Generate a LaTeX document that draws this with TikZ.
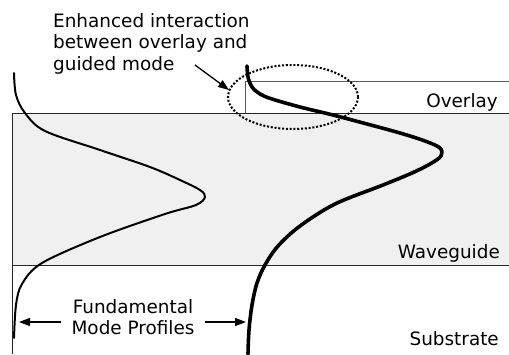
\documentclass[tikz,border=0pt]{standalone}
\usepackage{fontspec}
\setmainfont{DejaVu Sans}
\usetikzlibrary{arrows.meta}
\begin{document}
\begin{tikzpicture}[x=1pt,y=-1pt,
  lbl/.style={inner sep=0pt, font=\fontsize{18.4}{21.5}\selectfont},
  bound/.style={line width=1pt, black!85},
  thinprofile/.style={line width=2pt, line join=round, line cap=round},
  thickprofile/.style={line width=3.6pt, line join=round, line cap=round},
  arr/.style={line width=1.3pt, -{Triangle[length=11pt,width=8pt]}},
  halo/.style={line width=2pt, dash pattern=on 2pt off 1.8pt}]
\useasboundingbox (0,0) rectangle (509,354);
% waveguide layer
\fill[black!6] (12,113) rectangle (509,265);
% boundaries
\draw[bound] (509,113) -- (12,113) -- (12,354);
\draw[bound] (12,265) -- (509,265);
\draw[bound, black!65] (245,113) -- (245,81) -- (509,81);
% mode profiles
\draw[thinprofile] plot[smooth, tension=0.55] coordinates {
  (14,73) (16,95) (25,113) (45,131) (100,150) (150,167) (180,180)
  (200,190) (205,197) (196,205) (165,214) (100,237) (42,263)
  (22,284) (16,305) (14,338)};
\draw[thickprofile] plot[smooth, tension=0.55] coordinates {
  (247,66) (248,77) (252,87) (260,94) (272,99) (300,107) (333,115)
  (367,124) (400,133) (425,141) (440,148) (441,156) (430,164)
  (412,173) (383,185) (335,204) (300,226) (278,246) (265,265)
  (257,283) (252,305) (249,330) (248,354)};
% enhanced interaction region
\draw[halo] (293,97) ellipse [x radius=65pt, y radius=32pt];
% labels
\node[lbl, anchor=base east] (overlay) at (498,107) {Overlay};
\node[lbl, anchor=base east] (waveguide) at (500,258) {Waveguide};
\node[lbl, anchor=base east] (substrate) at (499,345) {Substrate};
\node[lbl, anchor=north, align=center] (fund) at (133,299) {Fundamental\\Mode Profiles};
\node[lbl, anchor=north west, align=left] (annot) at (53,13) {Enhanced interaction\\between overlay and\\guided mode};
% arrows
\coordinate (astart) at (195,65);
\coordinate (atip) at (229,90);
\draw[arr] (astart) -- (atip);
\coordinate (lstart) at (61,322);
\coordinate (ltip) at (19,322);
\draw[arr] (lstart) -- (ltip);
\coordinate (rstart) at (205,322);
\coordinate (rtip) at (246,322);
\draw[arr] (rstart) -- (rtip);
\end{tikzpicture}
\end{document}
